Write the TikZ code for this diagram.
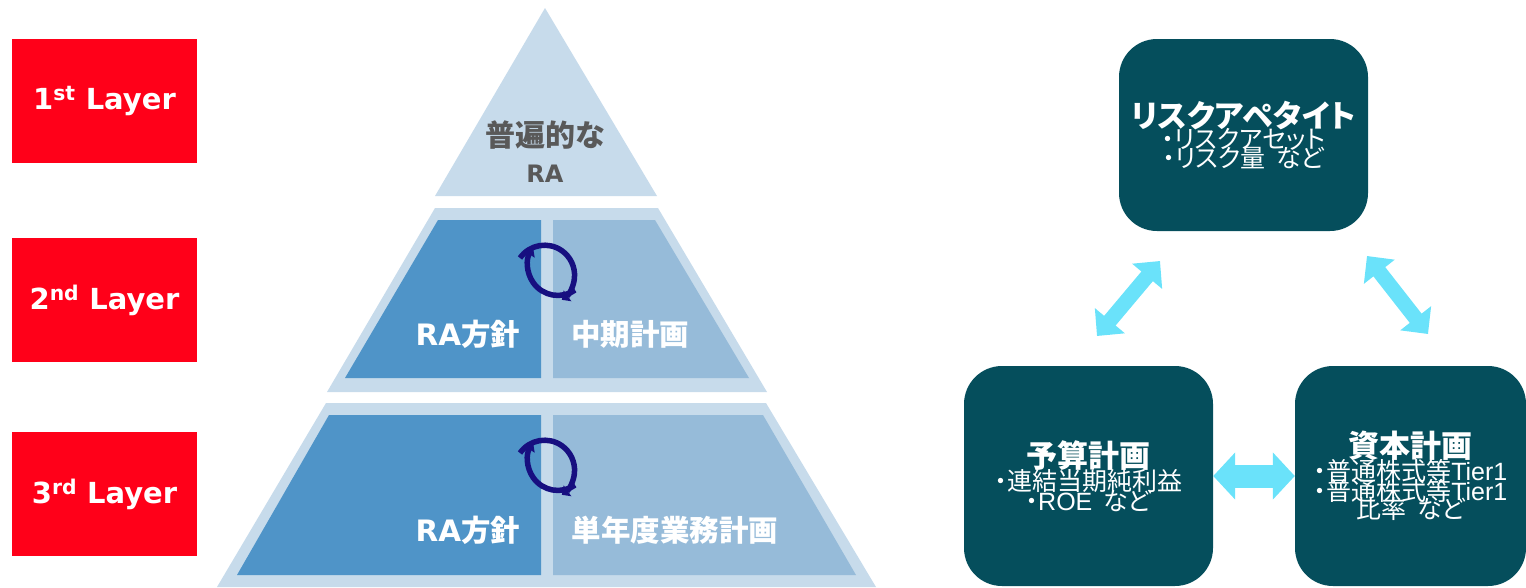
\documentclass[tikz,border=0pt]{standalone}
\usepackage{fontspec}
\usetikzlibrary{arrows.meta}
\setmainfont{Noto Sans CJK JP}
\newfontfamily\cjkp[RawFeature=+palt]{Noto Sans CJK JP}
\newfontfamily\vbold{DejaVu Sans Bold}
\newfontfamily\arial{Liberation Sans}
\definecolor{redbox}{HTML}{FF0019}
\definecolor{pale}{HTML}{C7DBEB}
\definecolor{midblue}{HTML}{4F94C8}
\definecolor{lightblue}{HTML}{96BBD9}
\definecolor{teal}{HTML}{054E5C}
\definecolor{cyanarrow}{HTML}{6AE2FA}
\definecolor{ringblue}{HTML}{170F80}
\definecolor{greytext}{HTML}{595959}
\tikzset{
  x=1pt,y=-1pt,
  layerbox/.style={fill=redbox,text=white,minimum width=185pt,minimum height=124pt,inner sep=0pt,align=center,font=\vbold\fontsize{29}{32}\selectfont},
  planbox/.style={fill=teal,text=white,rounded corners=38pt,inner sep=0pt,align=center},
  dblarrow/.style={cyanarrow,line width=#1},
  onblue/.style={text=white,font=\fontsize{29.5}{32}\selectfont\bfseries,inner sep=0pt},
  ringarc/.style={draw=ringblue,line width=5.5pt,-{Triangle[length=7pt,width=13pt]}},
}
\newcommand{\ttl}[1]{{\fontsize{31}{36}\selectfont\bfseries\cjkp #1}\\[-2pt]}
\newcommand{\sub}{\fontsize{25}{29}\selectfont\cjkp}
\begin{document}
\begin{tikzpicture}
\useasboundingbox (0,0) rectangle (1526,587);
% layers
\node[layerbox] (l1) at (104.5,101) {1\textsuperscript{st} Layer};
\node[layerbox] (l2) at (104.5,300) {2\textsuperscript{nd} Layer};
\node[layerbox] (l3) at (104.5,494) {3\textsuperscript{rd} Layer};
% pyramid
\fill[pale] (545,8) -- (657,196) -- (435,196) -- cycle;
\fill[pale] (435,208) -- (658,208) -- (767,392) -- (327,392) -- cycle;
\fill[midblue] (438,220) -- (541,220) -- (541,378) -- (345,378) -- cycle;
\fill[lightblue] (553,220) -- (655,220) -- (749,378) -- (553,378) -- cycle;
\fill[pale] (326,403) -- (766,403) -- (876,587) -- (217,587) -- cycle;
\fill[midblue] (329,415) -- (541,415) -- (541,575) -- (237,575) -- cycle;
\fill[lightblue] (553,415) -- (763,415) -- (856,575) -- (553,575) -- cycle;
\node[text=greytext,font=\fontsize{30}{34}\selectfont\bfseries,align=center,inner sep=0pt] (ra) at (545,152) {普遍的な\\[2pt]{\vbold\mdseries\fontsize{24}{28}\selectfont RA}};
% rings
\draw[ringarc] (575,290) arc[start angle=55,end angle=215,radius=30];
\draw[ringarc] (520,258) arc[start angle=215,end angle=415,radius=30];
\draw[ringarc] (575,485) arc[start angle=55,end angle=215,radius=30];
\draw[ringarc] (520,453) arc[start angle=215,end angle=415,radius=30];
\node[onblue] (a1) at (468,334) {{\vbold RA}方針};
\node[onblue] (b1) at (630,334) {中期計画};
\node[onblue] (a2) at (468,530) {{\vbold RA}方針};
\node[onblue] (b2) at (675,530) {単年度業務計画};
% plan boxes
\node[planbox,minimum width=249pt,minimum height=192pt] (risk) at (1243.5,135) {\ttl{リスクアペタイト}\sub ・リスクアセット\\[-4pt]\sub ・リスク量\ \ など};
\node[planbox,minimum width=249pt,minimum height=220pt] (budget) at (1088.5,476) {\ttl{予算計画}\sub ・連結当期純利益\\[-4pt]\sub ・{\arial ROE}\ \ など};
\node[planbox,minimum width=231pt,minimum height=220pt] (capital) at (1410.5,476) {\ttl{資本計画}\sub ・普通株式等{\arial Tier1}\\[-4pt]\sub ・普通株式等{\arial Tier1}\\[-6pt]\sub 比率\ \ など};
% arrows
\coordinate (rb) at (1160,261);
\coordinate (br) at (1097,336);
\coordinate (rc) at (1367,256);
\coordinate (cr) at (1428,334);
\draw[dblarrow=15pt,{Triangle[length=20pt,width=38pt]}-{Triangle[length=20pt,width=38pt]}] (rb) -- (br);
\draw[dblarrow=15pt,{Triangle[length=20pt,width=38pt]}-{Triangle[length=20pt,width=38pt]}] (rc) -- (cr);
\draw[dblarrow=23pt,{Triangle[length=22pt,width=46pt]}-{Triangle[length=22pt,width=46pt]}] (budget.east) -- (capital.west);
\end{tikzpicture}
\end{document}
